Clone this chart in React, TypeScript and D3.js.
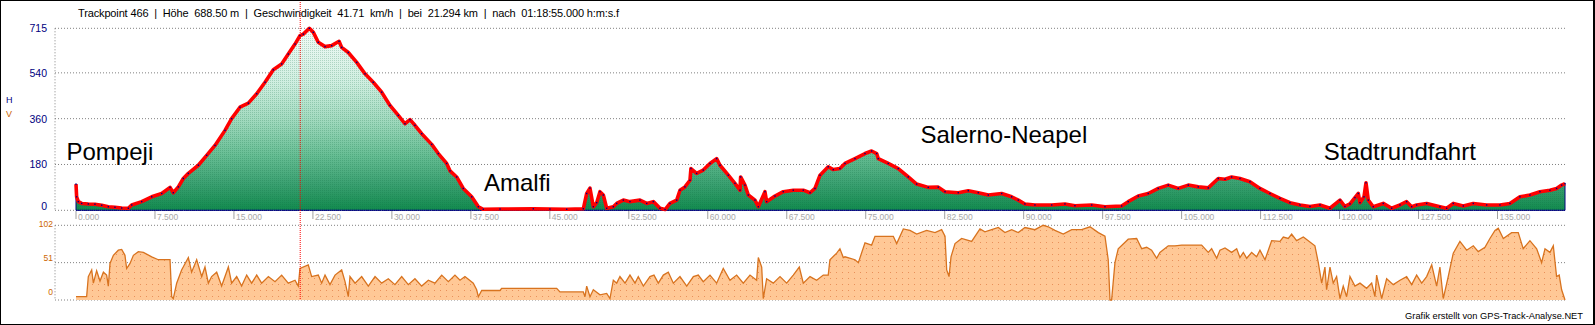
import React from "react";
import * as d3 from "d3";

// ---------- DATA ----------
const elevKm = [0.0,0.06,0.22,0.54,1.17,1.8,2.44,3.07,3.7,4.34,4.97,5.29,6.24,7.19,8.14,8.93,9.24,9.72,10.19,10.67,11.62,12.41,13.2,14.15,14.78,15.57,16.37,17.16,17.95,18.74,19.53,20.16,20.8,21.27,21.59,22.16,22.54,23.01,23.65,24.28,24.98,25.23,25.86,26.66,27.45,28.23,29.03,29.82,30.61,31.24,31.72,32.19,32.83,33.78,34.41,35.2,35.52,36.15,36.78,37.58,38.21,38.68,40.27,43.43,45.01,46.6,48.18,48.5,48.81,49.13,49.45,49.76,50.08,50.4,51.03,51.35,51.98,52.61,53.56,54.2,54.83,55.46,55.94,56.41,57.05,57.36,57.83,58.31,58.4,58.94,59.57,60.21,60.84,61.16,61.95,62.58,63.06,63.12,63.53,63.85,64.48,64.8,65.43,65.59,66.38,67.17,68.12,69.07,69.71,70.18,70.66,71.44,71.92,72.55,73.03,73.98,74.93,75.56,76.04,76.19,77.14,78.09,79.04,79.84,80.94,81.89,82.53,83.79,84.74,85.69,86.64,87.91,88.86,89.49,90.12,91.07,92.66,93.92,94.87,96.46,97.72,99.3,99.93,100.88,101.83,102.78,103.73,104.68,105.63,106.58,107.53,108.48,109.12,109.75,110.54,111.49,112.44,113.39,114.34,115.29,116.24,117.19,118.14,119.09,120.04,120.51,120.99,121.46,121.78,121.94,122.32,122.51,122.73,123.2,124.15,124.95,125.74,126.37,126.85,127.32,128.27,129.53,130.17,130.8,131.75,132.7,133.97,135.23,136.18,137.13,138.08,139.03,139.98,140.61,141.09,141.41];
const elevM = [103,53,34,27,25,24,20,14,12,9,8,21,34,53,66,90,69,92,125,145,177,216,255,314,360,405,421,458,503,552,575,614,653,686,692,715,699,660,643,647,664,640,620,581,536,503,464,412,373,340,356,334,301,259,223,184,155,131,86,53,14,4,5,6,5,4,6,66,87,14,30,73,60,8,14,27,40,34,40,27,34,8,3,27,40,79,92,118,164,145,158,184,203,177,138,106,79,131,99,60,40,14,73,34,56,73,79,79,69,86,138,171,160,164,184,203,223,233,223,203,184,164,131,103,90,91,73,69,77,69,60,66,53,40,25,21,21,25,18,21,14,17,34,56,66,86,99,86,99,92,88,125,122,131,125,112,86,66,47,30,21,15,21,8,40,15,25,50,66,30,53,108,40,14,27,8,21,34,14,21,27,14,8,27,17,27,21,21,27,53,60,73,79,86,99,105];

const speedKm = [0.0,1.01,1.17,1.49,1.65,1.96,2.28,2.6,2.91,3.07,3.23,3.55,4.02,4.34,4.65,4.81,5.13,5.45,5.92,6.4,7.19,7.82,8.93,9.09,9.24,9.56,10.03,10.67,10.98,11.46,11.94,12.25,12.57,12.88,13.36,13.83,14.47,14.78,15.26,15.73,16.21,16.68,17.16,17.63,18.27,18.9,19.53,20.16,20.8,21.11,21.27,22.06,22.38,23.01,23.33,23.65,24.12,24.6,25.23,25.55,25.86,26.02,26.5,27.13,27.76,28.4,29.03,29.66,30.29,30.93,31.56,32.19,32.83,33.46,34.09,34.73,35.36,35.99,36.47,36.94,37.73,38.05,38.21,38.53,40.27,40.42,43.43,45.65,45.96,48.18,48.34,48.5,48.81,49.13,49.76,50.4,50.71,51.03,51.35,51.66,52.14,52.61,53.09,53.4,53.88,54.51,54.89,55.3,55.78,56.25,56.73,57.36,58.0,58.63,59.1,59.57,60.21,60.84,61.47,62.11,62.74,63.37,64.01,64.64,64.8,65.12,65.27,65.59,66.22,66.86,67.49,68.12,68.69,69.07,69.71,70.34,70.97,71.44,71.6,72.24,72.55,72.87,73.03,73.98,74.3,74.93,75.56,75.88,76.99,77.62,77.94,78.57,79.2,79.84,80.78,81.58,82.21,82.53,82.69,82.91,83.1,83.48,84.11,85.06,85.85,86.32,86.96,87.59,88.22,88.86,89.49,90.12,91.07,91.86,92.34,92.97,93.76,94.56,95.51,96.3,97.09,97.72,98.03,98.2,98.35,98.67,98.98,99.93,100.73,101.21,101.68,102.15,102.63,102.94,103.73,104.37,105.0,105.95,106.9,107.53,107.85,108.33,108.64,109.12,109.75,110.23,110.54,110.86,111.18,111.65,112.12,112.44,112.92,113.55,114.34,114.66,115.13,115.45,115.92,116.56,117.03,117.66,117.98,118.3,118.61,118.77,119.09,119.4,119.72,120.04,120.35,120.67,120.99,121.46,121.94,122.57,123.05,123.36,123.52,124.0,124.47,125.1,125.74,126.37,126.85,127.32,127.8,128.27,128.75,129.22,129.53,129.85,130.32,130.8,131.43,132.07,132.7,133.17,133.81,134.28,134.76,135.07,135.55,136.34,136.97,137.44,138.08,138.72,139.19,139.51,139.98,140.3,140.61,140.86,141.09,141.41];
const speedKmh = [4.5,4.5,32,41,23,40,26,38,34,19,50,61,68,69,61,43,50,61,66,65,59,55,55,4.5,2,23,41,58,38,55,32,45,23,32,38,19,45,23,32,19,34,23,34,23,32,25,34,23,27,19,43,48,32,34,23,34,21,34,41,25,4.5,32,23,32,19,32,23,29,21,32,21,29,19,27,23,34,25,34,27,32,23,14,4.5,13,13,16,16,16,11,11,4.5,19,4.5,14,7,9,2,27,23,32,23,34,23,32,19,32,34,23,34,38,23,32,19,32,34,25,34,23,43,27,34,23,34,27,58,45,2,29,23,32,23,34,45,23,32,27,34,34,55,64,70,58,59,55,51,78,75,87,87,87,77,97,95,90,95,92,96,87,41,32,59,77,84,80,97,93,96,99,92,96,92,99,96,102,100,95,90,96,96,100,92,87,55,0,0,51,70,83,84,70,72,68,57,65,74,74,75,75,75,65,70,57,68,71,65,70,58,65,57,65,59,68,55,81,80,86,84,90,81,86,81,74,51,23,45,14,45,23,32,2,19,4.5,32,19,23,16,23,4.5,34,2,29,21,27,32,21,34,23,32,48,19,45,2,32,64,80,68,74,66,72,84,95,98,84,92,92,70,81,70,51,70,65,74,32,34,14,0];

const elevTicks = [0, 180, 360, 540, 715];
const speedTicks = [0, 51, 102];
const distTicks = [0, 7.5, 15, 22.5, 30, 37.5, 45, 52.5, 60, 67.5, 75, 82.5, 90, 97.5, 105, 112.5, 120, 127.5, 135];
const places = [
  { name: "Pompeji", km: -0.9, h: 197 },
  { name: "Amalfi", km: 38.75, h: 75 },
  { name: "Salerno-Neapel", km: 80.2, h: 266 },
  { name: "Stadtrundfahrt", km: 118.5, h: 197 },
];
const cursorKm = 21.294;
const headerText = "Trackpoint 466  |  Höhe  688.50 m  |  Geschwindigkeit  41.71  km/h  |  bei  21.294 km  |  nach  01:18:55.000 h:m:s.f";
const creditText = "Grafik erstellt von GPS-Track-Analyse.NET";

// ---------- LAYOUT ----------
const W = 1595, H = 325;
const plotLeft = 55, plotRight = 1565;
const FONT = "'Liberation Sans', Arial, sans-serif";

export default function App() {
  const x = d3.scaleLinear().domain([0, 141.41]).range([76, 1565]);
  const yE = d3.scaleLinear().domain([0, 715]).range([210.3, 28.3]);
  const yS = d3.scaleLinear().domain([0, 102]).range([300, 225.3]);
  const ySLabel = d3.scaleLinear().domain([0, 102]).range([292, 224]);

  const elevPts: [number, number][] = elevKm.map((k, i) => [k, elevM[i]]);
  const speedPts: [number, number][] = speedKm.map((k, i) => [k, speedKmh[i]]);

  const elevArea = d3.area<[number, number]>().x(d => x(d[0])).y0(yE(0)).y1(d => yE(d[1]))(elevPts) || "";
  const elevLine = d3.line<[number, number]>().x(d => x(d[0])).y(d => yE(d[1]))(elevPts) || "";
  const speedArea = d3.area<[number, number]>().x(d => x(d[0])).y0(yS(0)).y1(d => yS(d[1]))(speedPts) || "";
  const speedLine = d3.line<[number, number]>().x(d => x(d[0])).y(d => yS(d[1]))(speedPts) || "";

  const grid = "#808080";

  return (
    <svg width={W} height={H} style={{ position: "absolute", left: 0, top: 0, background: "#fff" }} fontFamily={FONT}>
      <defs>
        <linearGradient id="eg" gradientUnits="userSpaceOnUse" x1="0" y1={yE(715)} x2="0" y2={yE(0)}>
          <stop offset="0" stopColor="#f4fbf8" />
          <stop offset="0.3" stopColor="#cfeee0" />
          <stop offset="0.5" stopColor="#a2dabf" />
          <stop offset="0.7" stopColor="#66bd93" />
          <stop offset="0.85" stopColor="#3ca172" />
          <stop offset="1" stopColor="#128a4e" />
        </linearGradient>
        <pattern id="dith" width="2" height="2" patternUnits="userSpaceOnUse">
          <rect x="0" y="0" width="1" height="1" fill="#0a6a3a" fillOpacity="0.22" />
        </pattern>
        <pattern id="sdots" width="6" height="6" patternUnits="userSpaceOnUse">
          <rect x="2" y="2" width="1" height="1" fill="#e8905a" />
        </pattern>
      </defs>
      <rect x={0} y={0} width={W} height={H} fill="#fff" />

      {/* header */}
      <text x={78} y={17} fontSize={11} fill="#000" style={{ whiteSpace: "pre" }} textLength={541} lengthAdjust="spacing">{headerText}</text>

      {/* elevation gridlines */}
      {elevTicks.map(t => (
        <line key={"eg" + t} x1={plotLeft} x2={plotRight} y1={yE(t)} y2={yE(t)} stroke={grid} strokeDasharray="1,2" />
      ))}
      <line x1={plotLeft} x2={plotLeft} y1={yE(715)} y2={yE(0)} stroke={grid} strokeDasharray="1,2" />
      {elevTicks.map(t => (
        <text key={"el" + t} x={47} y={yE(t) + (t === 0 ? 0 : 4)} fontSize={10.5} fill="#000080" textAnchor="end">{t}</text>
      ))}

      {/* speed gridlines */}
      {speedTicks.map(t => (
        <line key={"sg" + t} x1={plotLeft} x2={plotRight} y1={yS(t)} y2={yS(t)} stroke={grid} strokeDasharray="1,2" />
      ))}
      <line x1={plotLeft} x2={plotLeft} y1={yS(102)} y2={yS(0)} stroke={grid} strokeDasharray="1,2" />
      {speedTicks.map(t => (
        <text key={"sl" + t} x={53} y={ySLabel(t) + 3} fontSize={8.5} fill="#cc6600" textAnchor="end">{t}</text>
      ))}

      <text x={6} y={103} fontSize={9} fill="#000080">H</text>
      <text x={6} y={117} fontSize={9} fill="#cc6600">V</text>

      {/* elevation area */}
      <path d={elevArea} fill="url(#eg)" stroke="#000080" strokeWidth={1} />
      <path d={elevArea} fill="url(#dith)" />
      <line x1={x(0)} x2={x(141.41)} y1={yE(0)} y2={yE(0)} stroke="#000080" strokeDasharray="1,1" />
      <path d={elevLine} fill="none" stroke="#ff0000" strokeWidth={3.6} strokeLinejoin="round" />
      {elevPts.map((d, i) => (
        <rect key={"ep" + i} x={x(d[0]) - 0.7} y={yE(d[1]) - 0.7} width={1.4} height={1.4} fill="#000080" />
      ))}

      {/* speed area */}
      <path d={speedArea} fill="#ffc896" />
      <path d={speedArea} fill="url(#sdots)" />
      <path d={speedLine} fill="none" stroke="#d8731f" strokeWidth={1.3} />

      {/* distance ticks */}
      {distTicks.map(t => (
        <g key={"dt" + t}>
          <line x1={x(t)} x2={x(t)} y1={211} y2={219} stroke="#a0a0a0" />
          <text x={x(t) + 2} y={220} fontSize={8.5} fill="#a8a8a8">{t.toFixed(3)}</text>
        </g>
      ))}

      {/* place labels */}
      {places.map(p => (
        <text key={p.name} x={x(p.km)} y={yE(p.h)} fontSize={24} fill="#000">{p.name}</text>
      ))}

      {/* cursor */}
      <line x1={x(cursorKm)} x2={x(cursorKm)} y1={2} y2={300} stroke="#ff0000" strokeDasharray="1,1" />

      <text x={1583} y={319} fontSize={9.3} fill="#000" textAnchor="end">{creditText}</text>

      <rect x={0.5} y={0.5} width={W - 2} height={H - 1} fill="none" stroke="#000" strokeWidth={1} />
      <line x1={W - 1} x2={W - 1} y1={0} y2={H} stroke="#000" strokeWidth={2} />
    </svg>
  );
}
